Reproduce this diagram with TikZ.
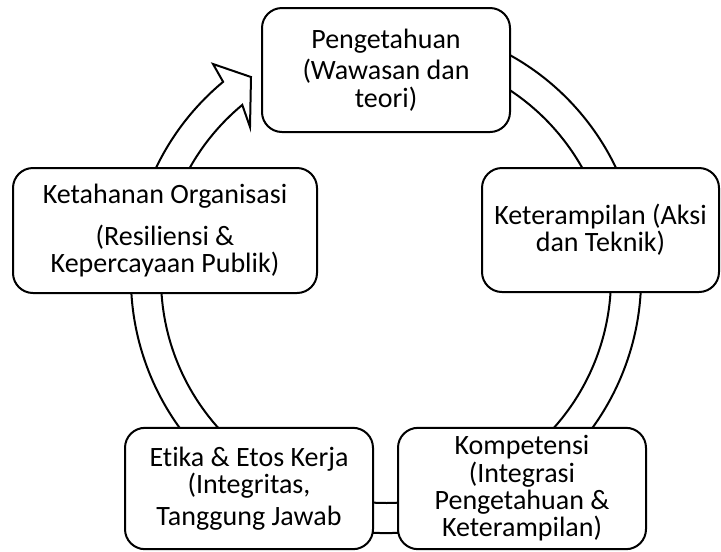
\documentclass[tikz,border=0pt]{standalone}
\usepackage{fontspec}
\setmainfont[Ligatures=NoCommon]{Carlito}
\usetikzlibrary{calc, positioning}

\begin{document}
\begin{tikzpicture}[x=0.75pt, y=-0.75pt,
        cbox/.style={draw, line width=1.5pt, rounded corners=15pt, fill=white, align=center,
            minimum width=186pt, minimum height=91pt, inner sep=2pt,
            font=\fontsize{21}{20.5}\selectfont},
        ring/.style={draw, line width=1.5pt, fill=white}]
        \useasboundingbox (0, 0) rectangle (721, 551);
        \coordinate (Nctr) at (386, 278);

        \draw [ring] ($(Nctr)+(290:255)$) arc [start angle=290, end angle=590.3, radius=255]
            -- (213, 64) -- (251, 77) -- (250, 127)
            -- ($(Nctr)+(590.3:225)$) arc [start angle=590.3, end angle=290, radius=225] -- cycle;

        \node [cbox, minimum height=93pt] (Npeng) at (386, 70) {Pengetahuan\\[3pt](Wawasan dan\\teori)};
        \node [cbox, minimum width=177.75pt, minimum height=93pt] (Nketr) at (600.5, 230) {Keterampilan (Aksi\\dan Teknik)};
        \node [cbox] (Nkomp) at (522, 488.5) {Kompetensi\\(Integrasi\\Pengetahuan \&\\Keterampilan)};
        \node [cbox] (Netika) at (249, 488.5) {Etika \& Etos Kerja\\(Integritas,\\[3pt]Tanggung Jawab};
        \node [cbox, minimum width=228pt, minimum height=93.75pt] (Nketh) at (165, 230.5) {Ketahanan Organisasi\\[11pt](Resiliensi \&\\Kepercayaan Publik)};
\end{tikzpicture}
\end{document}
